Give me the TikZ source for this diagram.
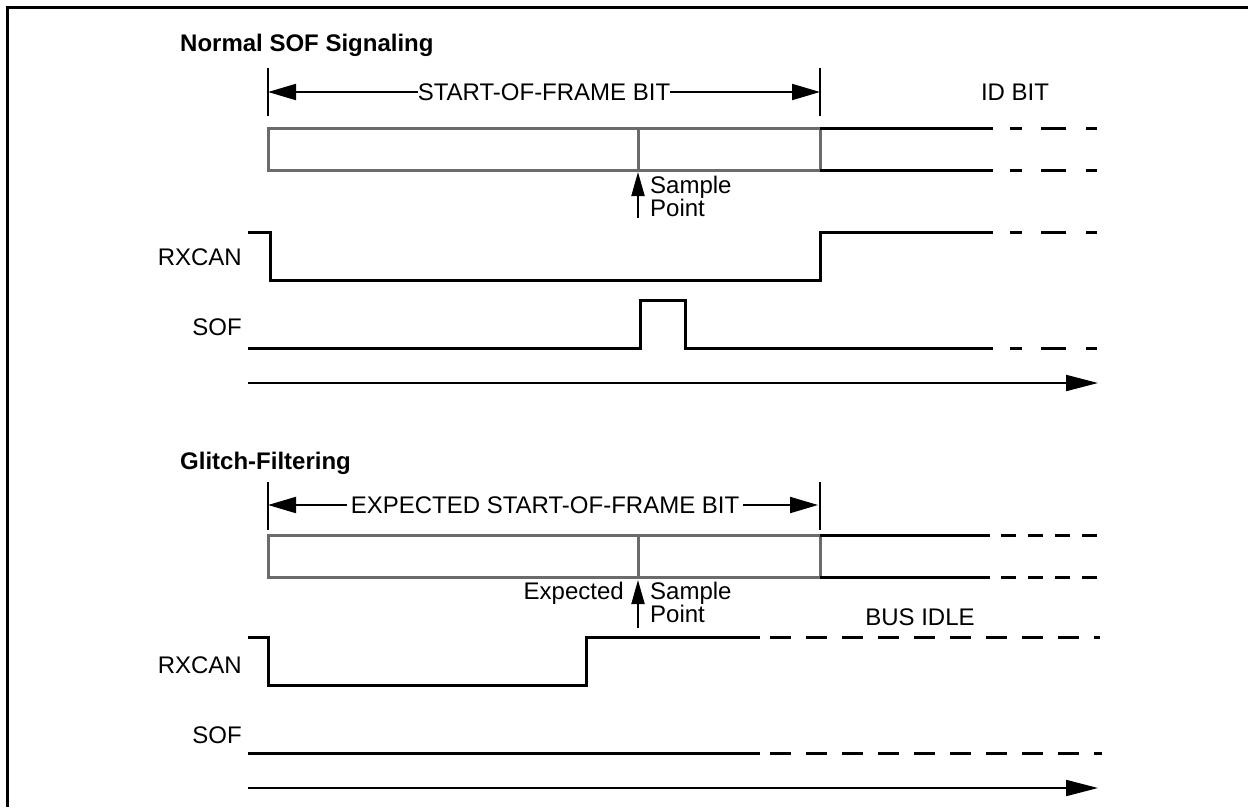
\documentclass[tikz,border=0pt]{standalone}
\usepackage{fontspec}
\setmainfont{Liberation Sans}
\usetikzlibrary{arrows.meta}
\begin{document}
\begin{tikzpicture}[x=1pt,y=-1pt,
  lbl/.style={font=\fontsize{24}{22}\selectfont, inner sep=0pt, align=left},
  ttl/.style={font=\fontsize{24}{26}\selectfont\bfseries, inner sep=0pt, anchor=west},
  sig/.style={line width=3pt, line join=miter},
  dsig/.style={line width=3pt, dash pattern=on 21pt off 15pt},
  dsigA/.style={line width=3pt, dash pattern=on 12pt off 19pt on 25pt off 20pt on 11pt off 40pt},
  dsigB/.style={line width=3pt, dash pattern=on 15pt off 12pt},
  boxl/.style={line width=3pt, draw=black!58},
  bar/.style={line width=2pt},
  brk/.style={line width=2pt, -{Triangle[length=28pt,width=16pt]}},
  smp/.style={line width=2pt, -{Triangle[length=24pt,width=13pt]}},
  tarr/.style={line width=2pt, -{Triangle[length=32pt,width=16pt]}}]
\useasboundingbox (0,0) rectangle (1248,807);
% frame
\draw[line width=3pt] (7,807) -- (7,7) -- (1248,7);

%% ---------- Normal SOF Signaling ----------
\node[ttl] (t1) at (180,45) {Normal SOF Signaling};
\coordinate (b1l) at (268,92);
\coordinate (b1r) at (820,92);
\draw[bar] (268,68) -- (268,116);
\draw[bar] (820,68) -- (820,116);
\node[lbl] (s1) at (544,92) {START-OF-FRAME BIT};
\draw[brk] (s1.west) -- (b1l);
\draw[brk] (s1.east) -- (b1r);
\node[lbl] (id) at (1015,92) {ID BIT};

% bit box
\draw[boxl] (268,128) rectangle (820,170);
\draw[boxl] (638,128) -- (638,170);
\draw[sig] (820,128) -- (993,128);
\draw[sig] (820,170) -- (993,170);
\draw[dsigA] (1010,128) -- (1097,128);
\draw[dsigA] (1010,170) -- (1097,170);

% sample point
\coordinate (sp1) at (638,172);
\coordinate (sp1b) at (638,218);
\draw[smp] (sp1b) -- (sp1);
\node[lbl, anchor=north west] (spt1) at (650,176) {Sample\\Point};

% RXCAN
\node[lbl, anchor=east] (rx1) at (242,257) {RXCAN};
\draw[sig] (248,232) -- (270,232) -- (270,280) -- (820,280) -- (820,232) -- (993,232);
\draw[dsigA] (1010,232) -- (1097,232);

% SOF
\node[lbl, anchor=east] (sof1) at (242,327) {SOF};
\draw[sig] (248,348) -- (640,348) -- (640,300) -- (685,300) -- (685,348) -- (993,348);
\draw[dsigA] (1010,348) -- (1097,348);

% time
\coordinate (ta1) at (248,383);
\coordinate (tb1) at (1098,383);
\draw[tarr] (ta1) -- (tb1);

%% ---------- Glitch-Filtering ----------
\node[ttl] (t2) at (180,463) {Glitch-Filtering};
\coordinate (b2l) at (268,505);
\coordinate (b2r) at (818,505);
\draw[bar] (268,482) -- (268,530);
\draw[bar] (820,482) -- (820,530);
\node[lbl] (s2) at (545,505) {EXPECTED START-OF-FRAME BIT};
\draw[brk] ([xshift=-4pt]s2.west) -- (b2l);
\draw[brk] ([xshift=4pt]s2.east) -- (b2r);

% bit box
\draw[boxl] (268,535) rectangle (820,577);
\draw[boxl] (638,535) -- (638,577);
\draw[sig] (820,535) -- (990,535);
\draw[sig] (820,577) -- (990,577);
\draw[dsigB] (1001,535) -- (1098,535);
\draw[dsigB] (1001,577) -- (1098,577);

% expected sample point
\coordinate (sp2) at (638,580);
\coordinate (sp2b) at (638,628);
\draw[smp] (sp2b) -- (sp2);
\node[lbl, anchor=north west] (spt2) at (650,582) {Sample\\Point};
\node[lbl, anchor=north east] (exp2) at (624,582) {Expected};
\node[lbl] (idle) at (920,617) {BUS IDLE};

% RXCAN
\node[lbl, anchor=east] (rx2) at (242,665) {RXCAN};
\draw[sig] (248,637) -- (268,637) -- (268,685) -- (586,685) -- (586,637) -- (760,637);
\draw[dsig] (770,637) -- (1100,637);

% SOF
\node[lbl, anchor=east] (sof2) at (242,735) {SOF};
\draw[sig] (248,753) -- (760,753);
\draw[dsig] (770,753) -- (1102,753);

% time
\coordinate (ta2) at (248,788);
\coordinate (tb2) at (1098,788);
\draw[tarr] (ta2) -- (tb2);
\end{tikzpicture}
\end{document}
